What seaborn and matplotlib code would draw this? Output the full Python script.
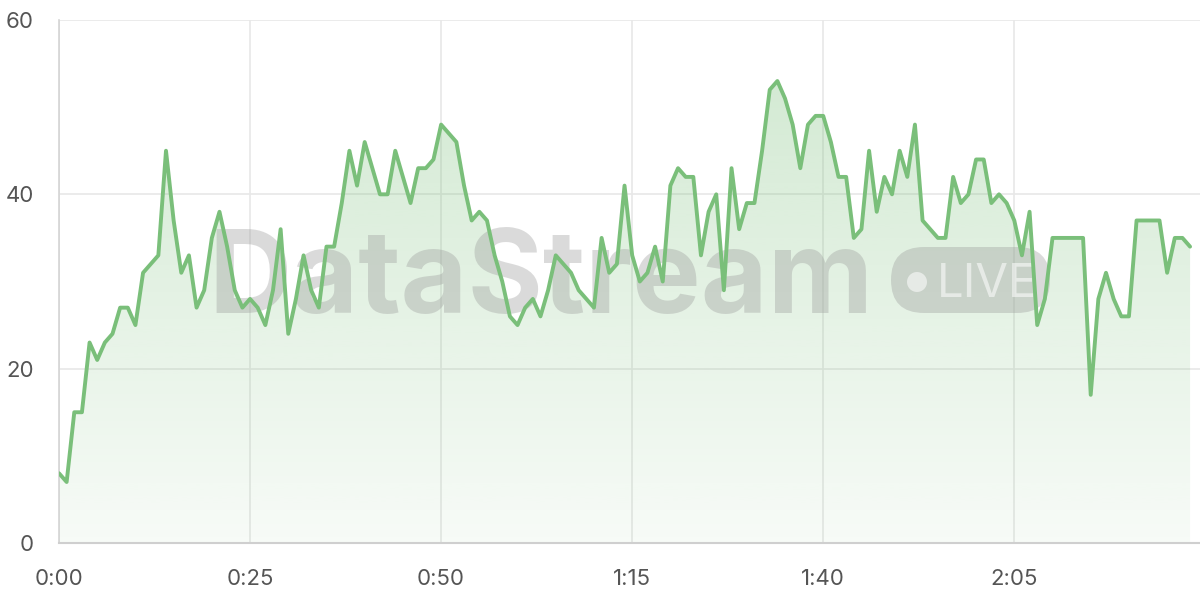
import numpy as np
import pandas as pd
import matplotlib.pyplot as plt
import seaborn as sns
from matplotlib.patches import FancyBboxPatch, Circle

# one reading per second
values = [8, 7, 15, 15, 23, 21, 23, 24, 27, 27, 25, 31, 32, 33, 45, 37, 31, 33, 27, 29,
          35, 38, 34, 29, 27, 28, 27, 25, 29, 36, 24, 28, 33, 29, 27, 34, 34, 39, 45, 41,
          46, 43, 40, 40, 45, 42, 39, 43, 43, 44, 48, 47, 46, 41, 37, 38, 37, 33, 30, 26,
          25, 27, 28, 26, 29, 33, 32, 31, 29, 28, 27, 35, 31, 32, 41, 33, 30, 31, 34, 30,
          41, 43, 42, 42, 33, 38, 40, 29, 43, 36, 39, 39, 45, 52, 53, 51, 48, 43, 48, 49,
          49, 46, 42, 42, 35, 36, 45, 38, 42, 40, 45, 42, 48, 37, 36, 35, 35, 42, 39, 40,
          44, 44, 39, 40, 39, 37, 33, 38, 25, 28, 35, 35, 35, 35, 35, 17, 28, 31, 28, 26,
          26, 37, 37, 37, 37, 31, 35, 35, 34]
seconds = list(range(len(values)))

x_ticks = [0, 25, 50, 75, 100, 125]
x_labels = ['0:00', '0:25', '0:50', '1:15', '1:40', '2:05']
y_ticks = [0, 20, 40, 60]

df = pd.DataFrame({'t': seconds, 'v': values})

sns.set_style('white')
plt.rcParams['font.family'] = ['Inter', 'DejaVu Sans']

green = '#7abf7a'
grid_c = '#e8e8e8'
text_c = '#555555'

fig = plt.figure(figsize=(12, 6), dpi=100)
ax = fig.add_axes([59 / 1200, 57 / 600, 1 - 59 / 1200, 523 / 600])

# gradient fill under the line
poly = ax.fill_between(df['t'], df['v'], 0, color='none', zorder=1)
rgba = np.zeros((256, 1, 4))
rgba[..., 0] = 0x7a / 255
rgba[..., 1] = 0xbf / 255
rgba[..., 2] = 0x7a / 255
rgba[..., 3] = np.linspace(0.06, 0.36, 256)[:, None]
img = ax.imshow(rgba, extent=[0, max(seconds), 0, 60], origin='lower',
                aspect='auto', zorder=1)
img.set_clip_path(poly.get_paths()[0], transform=ax.transData)

sns.lineplot(data=df, x='t', y='v', color=green, linewidth=2.8, ax=ax, zorder=4)

# watermark
tr = fig.dpi_scale_trans
ax.text(2.08, 2.87, 'DataStream', transform=tr, fontsize=83, fontweight='bold',
        color='#9a9a9a', alpha=0.36, zorder=2, clip_on=False)
pill = FancyBboxPatch((8.91, 2.87), 1.59, 0.66, boxstyle='round,pad=0,rounding_size=0.33',
                      transform=tr, facecolor='#9a9a9a', edgecolor='none', alpha=0.36,
                      zorder=2, clip_on=False)
ax.add_patch(pill)
ax.add_patch(Circle((9.17, 3.18), 0.10, transform=tr, facecolor='white', alpha=0.55,
                    edgecolor='none', zorder=2, clip_on=False))
ax.text(9.37, 3.03, 'LIVE', transform=tr, fontsize=34, color='white', alpha=0.55,
        zorder=2, clip_on=False)

ax.set_xlim(0, 149.3)
ax.set_ylim(0, 60)
ax.set_xticks(x_ticks)
ax.set_xticklabels(x_labels)
ax.set_yticks(y_ticks)
ax.set_xlabel('')
ax.set_ylabel('')
ax.grid(True, color=grid_c, linewidth=1.2, zorder=0)
ax.set_axisbelow(True)
ax.tick_params(axis='both', length=11, width=1.2, color=grid_c, labelcolor=text_c,
               labelsize=16)
ax.tick_params(axis='x', pad=8)
ax.tick_params(axis='y', pad=7)
for s in ['top', 'right']:
    ax.spines[s].set_visible(False)
ax.spines['left'].set_color('#d4d4d4')
ax.spines['left'].set_linewidth(1.2)
ax.spines['bottom'].set_color('#cfcfcf')
ax.spines['bottom'].set_linewidth(1.5)

fig.savefig('out.png', dpi=100)
